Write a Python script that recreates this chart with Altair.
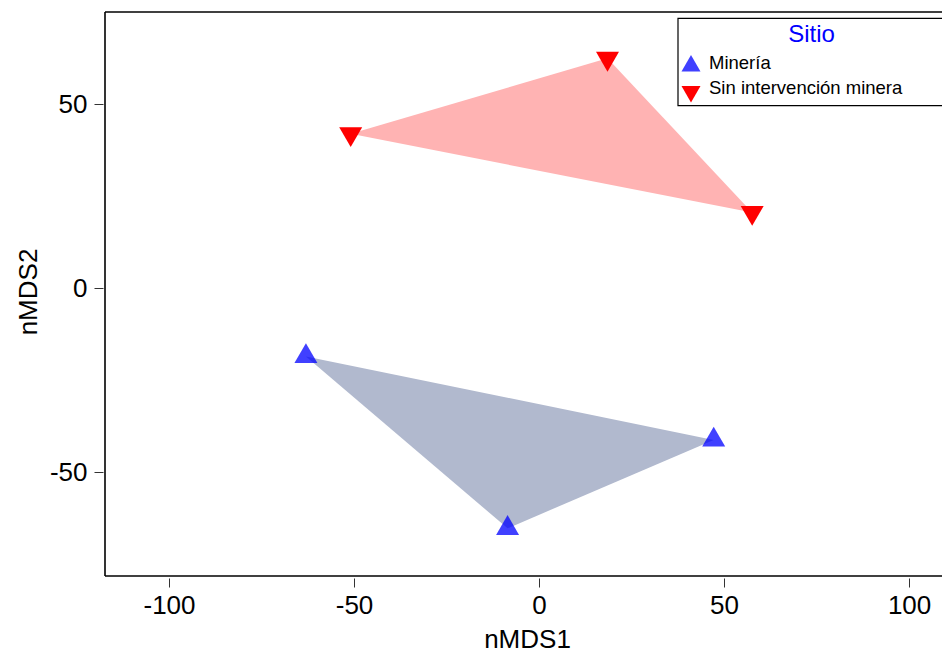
import altair as alt
import pandas as pd

# nMDS site scores
sitio = ["Minería", "Minería", "Minería",
         "Sin intervención minera", "Sin intervención minera", "Sin intervención minera"]
nmds1 = [-63.0, 47.2, -8.5, -50.9, 18.5, 57.6]
nmds2 = [-18.6, -41.3, -65.3, 41.9, 62.4, 20.5]
vertice = [1, 2, 3, 1, 2, 3]

grupos = ["Minería", "Sin intervención minera"]
color_punto = ["#0000FF", "#FF0000"]
opacidad_punto = [0.75, 1.0]
color_poligono = ["#B1B9CE", "#FFB3B3"]

x_ticks = [-100, -50, 0, 50, 100]
y_ticks = [-50, 0, 50]

df = pd.DataFrame({"sitio": sitio, "nMDS1": nmds1, "nMDS2": nmds2, "vertice": vertice})

W, H = 837, 564
FONT = "Liberation Sans"

# R-style triangles centred on their centroid
TRI_UP = "M0,-1.555L1.347,0.778L-1.347,0.778Z"
TRI_DOWN = "M0,1.555L1.347,-0.778L-1.347,-0.778Z"
formas = [TRI_UP, TRI_DOWN]

# plain hyphen-minus in tick labels
etiqueta = "'' + datum.value"

x_enc = alt.X("nMDS1:Q",
              scale=alt.Scale(domain=[-117.3, 108.9], nice=False, zero=False),
              axis=alt.Axis(values=x_ticks, title="nMDS1", titleX=422, titleY=69,
                            titleBaseline="alphabetic", titleAnchor="start", titleAlign="center",
                            labelPadding=5, labelExpr=etiqueta))
y_enc = alt.Y("nMDS2:Q",
              scale=alt.Scale(domain=[-78.26, 75.0], nice=False, zero=False),
              axis=alt.Axis(values=y_ticks, title="nMDS2", titleX=-66.4, titleY=279.5,
                            titleBaseline="alphabetic", titleAngle=-90, titleAlign="center",
                            labelPadding=7, labelExpr=etiqueta))

base = alt.Chart(df)

capas = []
# convex hulls
for g, c in zip(grupos, color_poligono):
    capas.append(
        base.transform_filter(alt.datum.sitio == g)
        .mark_line(fill=c, fillOpacity=1, strokeOpacity=0, strokeWidth=0)
        .encode(x=x_enc, y=y_enc, order="vertice:Q")
    )
# site points
for g, c, o, s in zip(grupos, color_punto, opacidad_punto, formas):
    capas.append(
        base.transform_filter(alt.datum.sitio == g)
        .mark_point(shape=s, filled=True, fill=c, fillOpacity=o, strokeWidth=0, size=291, opacity=1)
        .encode(x=x_enc, y=y_enc)
    )

uno = alt.Chart(pd.DataFrame({"k": [0]}))
marco = [
    uno.mark_rule(color="black", strokeWidth=1.6).encode(x=alt.value(0), x2=alt.value(W + 10), y=alt.value(0)),
    uno.mark_rule(color="black", strokeWidth=1.6).encode(x=alt.value(0), x2=alt.value(W + 10), y=alt.value(H)),
    uno.mark_rule(color="black", strokeWidth=1.6).encode(x=alt.value(0), y=alt.value(0), y2=alt.value(H)),
]

# legend
ley = pd.DataFrame({"sitio": grupos})
leyenda = [
    uno.mark_rect(fill="white", stroke="black", strokeWidth=1.2).encode(
        x=alt.value(573), x2=alt.value(W + 20), y=alt.value(6.3), y2=alt.value(93.7)),
    uno.mark_text(text="Sitio", font=FONT, fontSize=24, color="#0000FF", align="center",
                  baseline="alphabetic").encode(x=alt.value(706.5), y=alt.value(29.5)),
]
for i, (g, c, o, s) in enumerate(zip(grupos, color_punto, opacidad_punto, formas)):
    fila = alt.Chart(ley).transform_filter(alt.datum.sitio == g)
    leyenda.append(fila.mark_point(shape=s, filled=True, fill=c, fillOpacity=o, strokeWidth=0,
                                   size=199, opacity=1)
                   .encode(x=alt.value(586), y=alt.value([54, 79.5][i])))
    leyenda.append(fila.mark_text(font=FONT, fontSize=18.5, color="black", align="left",
                                  baseline="alphabetic")
                   .encode(text="sitio:N", x=alt.value(604), y=alt.value([57.3, 82.0][i])))

chart = alt.layer(*capas, *marco, *leyenda).properties(
    width=W, height=H,
    autosize="none",
    background="white",
    padding={"left": 105, "top": 12, "right": 0, "bottom": 72},
).configure_view(stroke=None).configure_axis(
    domain=False, grid=False, offset=2, tickSize=9, tickColor="#333333", tickWidth=1,
    labelFont=FONT, labelFontSize=26, labelColor="black",
    titleFont=FONT, titleFontSize=26, titleColor="black", titleFontWeight="normal",
)

chart.save("out.html", embed_options={"renderer": "svg", "actions": False})
